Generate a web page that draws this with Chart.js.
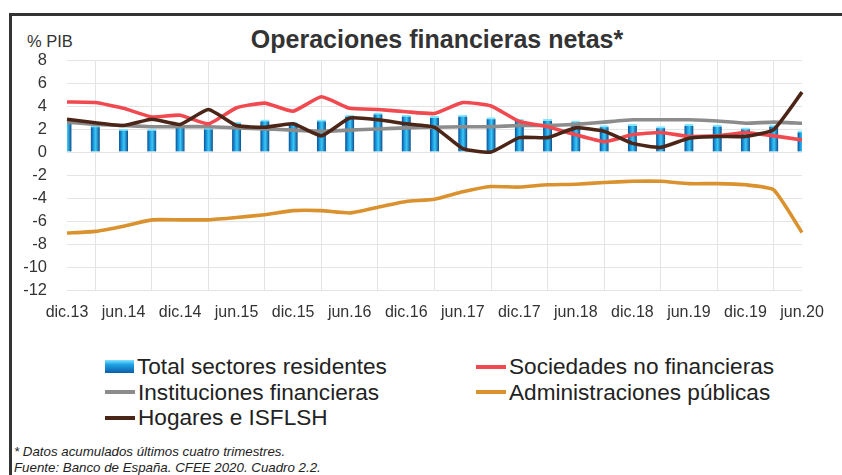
<!DOCTYPE html>
<html lang="es">
<head>
<meta charset="utf-8">
<title>Operaciones financieras netas</title>
<script src="https://cdn.jsdelivr.net/npm/chart.js@4/dist/chart.umd.min.js"></script>
<style>
  html, body { margin: 0; padding: 0; background: #fff; }
  body { width: 842px; height: 475px; position: relative; overflow: hidden;
         font-family: 'Liberation Sans', Arial, sans-serif; color: #222; }
  #frame { position: absolute; left: 9px; top: 13px; right: -5px; bottom: -5px;
           border-top: 3px solid #333; border-left: 3px solid #333; }
  #wrap { position: absolute; left: 0; top: 0; width: 842px; height: 340px; }
  #title { position: absolute; left: 0; width: 874px; top: 25px; text-align: center;
           font-size: 25px; font-weight: bold; color: #333; }
  #unit { position: absolute; left: 27px; top: 32px; font-size: 16.5px; color: #333; }
  #legend { position: absolute; left: 105px; top: 354px; width: 720px; }
  .lg-row { height: 25.5px; position: relative; }
  .lg-item { position: absolute; top: 0; display: flex; align-items: center;
             font-size: 22.6px; line-height: 25px; color: #222; white-space: nowrap; }
  .lg-item.c2 { left: 371px; }
  .lg-line { width: 30px; height: 4px; margin-right: 3px; }
  .lg-box { width: 29px; height: 13px; margin-right: 3px; box-sizing: border-box;
            background: linear-gradient(to bottom, #7fe4ff 0%, #1ea3e6 35%, #0b5ea8 100%); }
  #note { position: absolute; left: 14px; top: 444px; font-size: 13.3px; font-style: italic;
          line-height: 15.5px; color: #222; }
</style>
</head>
<body>
<div id="frame"></div>
<div id="title">Operaciones financieras netas*</div>
<div id="unit">% PIB</div>
<div id="wrap"><canvas id="chart"></canvas></div>
<div id="legend"></div>
<div id="note">* Datos acumulados últimos cuatro trimestres.<br>Fuente: Banco de España. CFEE 2020. Cuadro 2.2.</div>

<script>
// ─── DATA (quarterly, % PIB, accumulated last four quarters) ─────
const quarters = ['dic.13', 'mar.14', 'jun.14', 'sep.14', 'dic.14', 'mar.15', 'jun.15', 'sep.15',
  'dic.15', 'mar.16', 'jun.16', 'sep.16', 'dic.16', 'mar.17', 'jun.17', 'sep.17', 'dic.17',
  'mar.18', 'jun.18', 'sep.18', 'dic.18', 'mar.19', 'jun.19', 'sep.19', 'dic.19', 'mar.20', 'jun.20'];

const totalSectores = [2.6, 2.3, 2.0, 2.0, 2.3, 2.1, 2.6, 2.8, 2.6, 2.8, 3.2, 3.4, 3.2, 3.1,
  3.2, 3.0, 2.85, 2.85, 2.7, 2.3, 2.4, 2.2, 2.4, 2.35, 2.1, 2.35, 1.85];

const sociedadesNoFin = [4.35, 4.3, 3.8, 3.05, 3.2, 2.45, 3.85, 4.25, 3.55, 4.8, 3.8, 3.7, 3.5,
  3.35, 4.3, 4.0, 2.65, 2.2, 1.5, 0.9, 1.5, 1.7, 1.35, 1.4, 1.7, 1.4, 1.05];

const institucionesFin = [2.6, 2.4, 2.3, 2.2, 2.2, 2.2, 2.1, 2.0, 1.9, 1.8, 1.9, 2.0, 2.1, 2.15,
  2.2, 2.2, 2.3, 2.3, 2.4, 2.6, 2.8, 2.8, 2.8, 2.7, 2.5, 2.6, 2.5];

const adminPublicas = [-7.05, -6.9, -6.45, -5.9, -5.9, -5.9, -5.7, -5.45, -5.1, -5.1, -5.3, -4.8,
  -4.3, -4.1, -3.45, -3.0, -3.05, -2.85, -2.8, -2.65, -2.55, -2.55, -2.75, -2.75, -2.85, -3.3, -7.0];

const hogares = [2.85, 2.55, 2.3, 2.85, 2.4, 3.7, 2.3, 2.15, 2.45, 1.4, 2.95, 2.8, 2.45, 2.15,
  0.3, 0.0, 1.25, 1.25, 2.1, 1.8, 0.75, 0.4, 1.2, 1.35, 1.35, 1.95, 5.2];

const yTicks = { min: -12, max: 8, step: 2 };

// ─── COLORS ─────────────────────────────────────────────
const C = {
  bar:   '#1a8fd6',
  red:   '#f0494f',
  gray:  '#8c8c8c',
  orange:'#da922f',
  brown: '#4b2517',
  grid:  '#e4e4e4',
  text:  '#333333',
};

const FONT = "'Liberation Sans', Arial";

// cylinder-like horizontal gradient for each bar
function barFill(ctx) {
  const chart = ctx.chart;
  if (!chart.chartArea || ctx.type !== 'data') return C.bar;
  const x = chart.scales.x.getPixelForValue(ctx.dataIndex);
  const g = chart.ctx.createLinearGradient(x - 4.5, 0, x + 4.5, 0);
  g.addColorStop(0, '#0b4f95');
  g.addColorStop(0.35, '#1fa6e8');
  g.addColorStop(0.55, '#3cc6f4');
  g.addColorStop(1, '#0a4c8e');
  return g;
}

const lineStyle = color => ({
  type: 'line',
  borderColor: color,
  backgroundColor: color,
  borderWidth: 3.6,
  pointRadius: 0,
  tension: 0.15,
  fill: false,
});

const datasets = [
  { label: 'Total sectores residentes', type: 'bar', data: totalSectores,
    backgroundColor: barFill, borderColor: '#86e6ff',
    borderWidth: { top: 2, left: 0, right: 0, bottom: 0 }, borderSkipped: 'bottom',
    barThickness: 9, order: 5 },
  { label: 'Sociedades no financieras', data: sociedadesNoFin, ...lineStyle(C.red), order: 2 },
  { label: 'Instituciones financieras', data: institucionesFin, ...lineStyle(C.gray), order: 4 },
  { label: 'Administraciones públicas', data: adminPublicas, ...lineStyle(C.orange), order: 3 },
  { label: 'Hogares e ISFLSH', data: hogares, ...lineStyle(C.brown), order: 1 },
];

new Chart(document.getElementById('chart'), {
  type: 'bar',
  data: { labels: quarters, datasets },
  options: {
    responsive: true,
    maintainAspectRatio: false,
    animation: false,
    layout: { padding: { left: 17, right: 40, top: 60, bottom: 10 } },
    plugins: { legend: { display: false }, tooltip: { enabled: false } },
    scales: {
      x: {
        offset: false,
        afterFit: s => { s.height = 40; },
        grid: { color: C.grid, drawTicks: false },
        border: { display: false },
        ticks: {
          autoSkip: false, maxRotation: 0, padding: 13,
          color: C.text, font: { family: FONT, size: 16 },
          callback: function (v, i) { return i % 2 === 0 ? this.getLabelForValue(v) : null; },
        },
      },
      y: {
        min: yTicks.min, max: yTicks.max,
        afterFit: s => { s.width = 50; },
        grid: { color: C.grid, drawTicks: false },
        border: { display: false },
        ticks: { stepSize: yTicks.step, padding: 20, color: C.text,
                 font: { family: FONT, size: 16.5 } },
      },
    },
  },
});

// ─── LEGEND (two columns, like the original) ─────────────
const legendRows = [[0, 1], [2, 3], [4]];
document.getElementById('legend').innerHTML = legendRows.map(row => `
  <div class="lg-row">${row.map((d, k) => {
    const ds = datasets[d];
    const sw = ds.type === 'bar'
      ? '<span class="lg-box"></span>'
      : `<span class="lg-line" style="background:${ds.borderColor}"></span>`;
    return `<div class="lg-item${k ? ' c2' : ''}">${sw}${ds.label}</div>`;
  }).join('')}</div>`).join('');
</script>
</body>
</html>
